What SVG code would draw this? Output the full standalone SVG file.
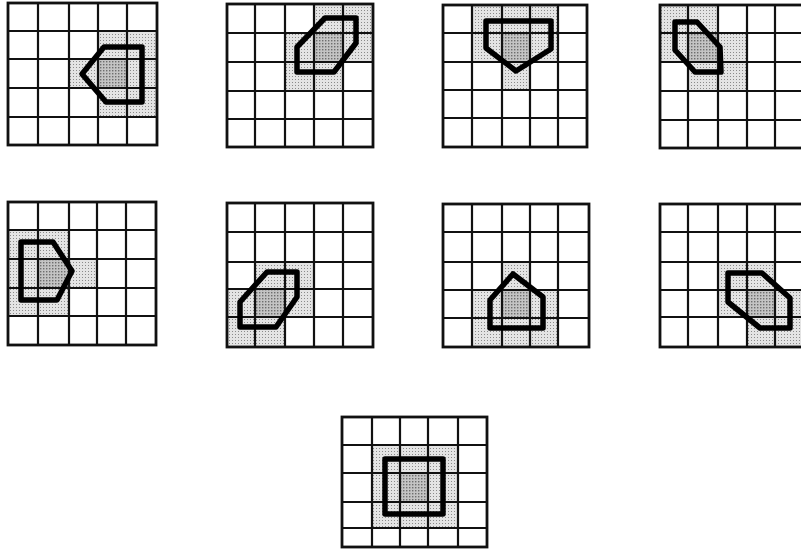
<svg xmlns="http://www.w3.org/2000/svg" width="801" height="560" viewBox="0 0 801 560">
<defs>
<pattern id="lp" width="3" height="3" patternUnits="userSpaceOnUse"><rect width="3" height="3" fill="#e4e4e4"/><rect x="1" y="1" width="1" height="1" fill="#8a8a8a"/></pattern>
<pattern id="dp" width="3" height="3" patternUnits="userSpaceOnUse"><rect width="3" height="3" fill="#c4c4c4"/><rect x="1" y="1" width="1.4" height="1.4" fill="#6e6e6e"/></pattern>
</defs>
<style>
.l{fill:url(#lp)}
.d{fill:url(#dp)}
.gl{fill:none;stroke:#111;stroke-width:2.2}
.ob{fill:none;stroke:#111;stroke-width:2.8}
.p{fill:none;stroke:#000;stroke-width:5.5;stroke-linejoin:round}
</style>
<rect width="801" height="560" fill="#fff"/>
<g id="grid1">
<rect class="l" x="98" y="31" width="59" height="86"/><rect class="l" x="69" y="59" width="29" height="29"/>
<rect class="d" x="98" y="59" width="29" height="29"/>
<path class="gl" d="M38 3V145M69 3V145M98 3V145M127 3V145M8 31H157M8 59H157M8 88H157M8 117H157"/>
<rect class="ob" x="8" y="3" width="149" height="142"/>
<polygon class="p" points="82,74 104,47 142,47 142,102 106,102"/>
</g>
<g id="grid2">
<rect class="l" x="314" y="4" width="59" height="29"/><rect class="l" x="285" y="33" width="88" height="29"/><rect class="l" x="285" y="62" width="58" height="29"/>
<rect class="d" x="314" y="33" width="29" height="29"/>
<path class="gl" d="M255 4V147M285 4V147M314 4V147M343 4V147M227 33H373M227 62H373M227 91H373M227 119H373"/>
<rect class="ob" x="227" y="4" width="146" height="143"/>
<polygon class="p" points="325,18 356,18 356,43 334,72 297,72 297,47"/>
</g>
<g id="grid3">
<rect class="l" x="472" y="5" width="86" height="57"/><rect class="l" x="502" y="62" width="28" height="28"/>
<rect class="d" x="502" y="33" width="28" height="29"/>
<path class="gl" d="M472 5V147M502 5V147M530 5V147M558 5V147M443 33H587M443 62H587M443 90H587M443 118H587"/>
<rect class="ob" x="443" y="5" width="144" height="142"/>
<polygon class="p" points="486,21 551,21 551,49 516,71 486,48"/>
</g>
<g id="grid4">
<rect class="l" x="660" y="5" width="58" height="28"/><rect class="l" x="660" y="33" width="87" height="29"/><rect class="l" x="688" y="62" width="59" height="29"/>
<rect class="d" x="688" y="33" width="30" height="29"/>
<path class="gl" d="M688 5V148M718 5V148M747 5V148M775 5V148M660 33H804M660 62H804M660 91H804M660 120H804"/>
<rect class="ob" x="660" y="5" width="144" height="143"/>
<polygon class="p" points="675,22 697,22 720,47 721,72 695,72 675,50"/>
</g>
<g id="grid5">
<rect class="l" x="8" y="230" width="61" height="86"/><rect class="l" x="69" y="259" width="28" height="29"/>
<rect class="d" x="38" y="259" width="31" height="29"/>
<path class="gl" d="M38 202V345M69 202V345M97 202V345M126 202V345M8 230H156M8 259H156M8 288H156M8 316H156"/>
<rect class="ob" x="8" y="202" width="148" height="143"/>
<polygon class="p" points="21,242 53,242 72,271 57,300 21,300"/>
</g>
<g id="grid6">
<rect class="l" x="255" y="262" width="59" height="27"/><rect class="l" x="227" y="289" width="87" height="28"/><rect class="l" x="227" y="317" width="58" height="30"/>
<rect class="d" x="255" y="289" width="30" height="28"/>
<path class="gl" d="M255 203V347M285 203V347M314 203V347M343 203V347M227 232H373M227 262H373M227 289H373M227 317H373"/>
<rect class="ob" x="227" y="203" width="146" height="144"/>
<polygon class="p" points="267,272 297,272 297,297 276,327 240,327 240,302"/>
</g>
<g id="grid7">
<rect class="l" x="502" y="262" width="28" height="28"/><rect class="l" x="472" y="290" width="86" height="57"/>
<rect class="d" x="502" y="290" width="28" height="28"/>
<path class="gl" d="M472 204V347M502 204V347M530 204V347M558 204V347M443 232H589M443 262H589M443 290H589M443 318H589"/>
<rect class="ob" x="443" y="204" width="146" height="143"/>
<polygon class="p" points="490,328 490,300 513,274 543,297 543,328"/>
</g>
<g id="grid8">
<rect class="l" x="718" y="262" width="57" height="28"/><rect class="l" x="718" y="290" width="86" height="27"/><rect class="l" x="747" y="317" width="57" height="30"/>
<rect class="d" x="747" y="290" width="28" height="27"/>
<path class="gl" d="M688 204V347M718 204V347M747 204V347M775 204V347M660 232H804M660 262H804M660 290H804M660 317H804"/>
<rect class="ob" x="660" y="204" width="144" height="143"/>
<polygon class="p" points="728,273 762,273 790,298 790,328 760,328 728,302"/>
</g>
<g id="grid9">
<rect class="l" x="372" y="445" width="86" height="83"/>
<rect class="d" x="400" y="473" width="28" height="29"/>
<path class="gl" d="M372 417V547M400 417V547M428 417V547M458 417V547M342 445H487M342 473H487M342 502H487M342 528H487"/>
<rect class="ob" x="342" y="417" width="145" height="130"/>
<rect class="p" x="385" y="459" width="58" height="55"/>
</g>
</svg>
